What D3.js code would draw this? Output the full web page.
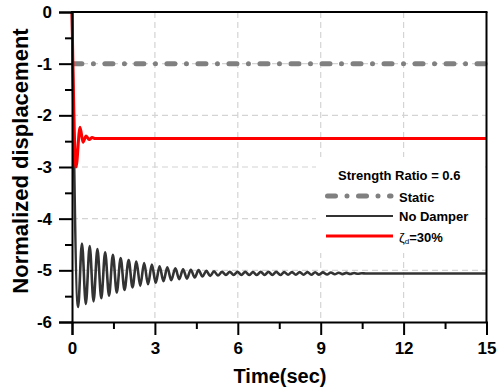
<!DOCTYPE html>
<html><head><meta charset="utf-8">
<script src="https://cdn.jsdelivr.net/npm/d3@7"></script>
<style>
html,body{margin:0;padding:0;background:#fff;}
svg{display:block;font-family:"Liberation Sans",Arial,sans-serif;}
</style></head>
<body><svg id="c" width="503" height="388"></svg>
<script>
// ---- data ----
const xTicks = [0, 3, 6, 9, 12, 15];
const xMinorTicks = [1.5, 4.5, 7.5, 10.5, 13.5];
const yTicks = [0, -1, -2, -3, -4, -5, -6];
const yMinorTicks = [-0.5, -1.5, -2.5, -3.5, -4.5, -5.5];
const seriesNames = ["Static", "No Damper", "ζd=30%"];

const staticT = [0, 15];
const staticV = [-1, -1];

const dampedT = [0, 0.145, 0.29, 0.40, 0.51, 0.62, 0.73, 0.84, 15];
const dampedV = [0, -3.0, -2.23, -2.52, -2.40, -2.47, -2.43, -2.45, -2.45];

const noDamperT = [0, 0.22, 0.36, 0.50, 0.64, 0.78, 0.92, 1.06, 1.20, 1.34, 1.48,
  1.62, 1.76, 1.90, 2.05, 2.19, 2.33, 2.47, 2.61, 2.75, 2.89,
  3.03, 3.17, 3.31, 3.45, 3.59, 3.74, 3.88, 4.02, 4.16, 4.30,
  4.44, 4.58, 4.72, 4.86, 5.00, 5.14, 5.28, 5.43, 5.57, 5.71,
  5.85, 5.99, 6.13, 6.27, 6.41, 6.55, 6.69, 6.83, 6.97, 7.11,
  7.25, 7.39, 7.54, 7.68, 7.82, 7.96, 8.10, 8.24, 8.38, 8.52,
  8.66, 8.80, 8.94, 9.08, 9.23, 9.37, 9.51, 9.65, 9.79, 9.93,
  10.07, 10.21, 10.35, 10.49, 10.63, 15];
const noDamperV = [0,
  -5.71, -4.48, -5.65, -4.53, -5.60, -4.59, -5.54, -4.65, -5.49, -4.70,
  -5.43, -4.76, -5.38, -4.80, -5.33, -4.83, -5.30, -4.86, -5.27, -4.89,
  -5.24, -4.92, -5.21, -4.94, -5.19, -4.96, -5.17, -4.98, -5.16, -4.99,
  -5.14, -4.995, -5.12, -5.01, -5.11, -5.02, -5.10, -5.03, -5.09, -5.03,
  -5.09, -5.03, -5.09, -5.03, -5.09, -5.035, -5.09, -5.03, -5.09, -5.03,
  -5.09, -5.03, -5.09, -5.035, -5.085, -5.035, -5.085, -5.035, -5.085, -5.035,
  -5.085, -5.037, -5.083, -5.04, -5.08, -5.043, -5.077, -5.046, -5.074, -5.05,
  -5.07, -5.053, -5.067, -5.057, -5.062,
  -5.06];

// ---- layout ----
const L = 72, R = 486.5, T = 12, B = 322;
const svg = d3.select("#c");
const x = d3.scaleLinear().domain([0, 15]).range([L, R]);
const y = d3.scaleLinear().domain([-6, 0]).range([B, T]);

// grid
const grid = svg.append("g").attr("stroke", "#d4d4d4").attr("stroke-width", 1.2).attr("stroke-dasharray", "6,4");
grid.selectAll("line.v").data(xTicks.slice(1, -1)).join("line")
  .attr("x1", d => x(d)).attr("x2", d => x(d)).attr("y1", T).attr("y2", B);
grid.selectAll("line.h").data(yTicks.slice(1, -1)).join("line")
  .attr("x1", L).attr("x2", R).attr("y1", d => y(d)).attr("y2", d => y(d));

const line = d3.line().x(d => x(d[0])).y(d => y(d[1])).curve(d3.curveMonotoneX);
const zip = (a, b) => a.map((v, i) => [v, b[i]]);

// static
svg.append("path").datum(zip(staticT, staticV)).attr("d", d3.line().x(d => x(d[0])).y(d => y(d[1])))
  .attr("fill", "none").attr("stroke", "#808080").attr("stroke-width", 5)
  .attr("stroke-linecap", "round").attr("stroke-dasharray", "8,11.5,0.01,11.5").attr("stroke-dashoffset", 29.1);
// no damper
svg.append("path").datum(zip(noDamperT, noDamperV)).attr("d", line)
  .attr("fill", "none").attr("stroke", "#333").attr("stroke-width", 2.6).attr("stroke-linejoin", "round");
// damped
svg.append("path").datum(zip(dampedT, dampedV)).attr("d", line)
  .attr("fill", "none").attr("stroke", "#ff0000").attr("stroke-width", 3).attr("stroke-linejoin", "round");

// frame
const frame = svg.append("g").attr("stroke", "#000").attr("stroke-width", 2);
frame.append("line").attr("x1", L - 1).attr("x2", R + 1).attr("y1", T).attr("y2", T);
frame.append("line").attr("x1", R).attr("x2", R).attr("y1", T).attr("y2", B);

// axes
const axFont = g => g.selectAll("text").attr("font-size", 17).attr("font-weight", "bold").attr("fill", "#000");
const xAxis = svg.append("g").attr("transform", `translate(0,${B})`)
  .call(d3.axisBottom(x).tickValues(xTicks).tickSize(13).tickPadding(7).tickFormat(d3.format("d")));
const xMinor = svg.append("g").attr("transform", `translate(0,${B})`)
  .call(d3.axisBottom(x).tickValues(xMinorTicks).tickSize(7).tickFormat(""));
const yAxis = svg.append("g").attr("transform", `translate(${L},0)`)
  .call(d3.axisLeft(y).tickValues(yTicks).tickSize(13).tickPadding(7).tickFormat(d3.format("d")));
const yMinor = svg.append("g").attr("transform", `translate(${L},0)`)
  .call(d3.axisLeft(y).tickValues(yMinorTicks).tickSize(7).tickFormat(""));
[xAxis, xMinor, yAxis, yMinor].forEach(g => {
  g.select(".domain").attr("stroke", "#000").attr("stroke-width", 2);
  g.selectAll(".tick line").attr("stroke", "#000").attr("stroke-width", 2);
  axFont(g);
});
yAxis.selectAll("text").text(d => d === 0 ? "0" : "-" + Math.abs(d));
xMinor.select(".domain").remove(); yMinor.select(".domain").remove();

// axis titles
svg.append("text").attr("x", 280).attr("y", 383).attr("text-anchor", "middle")
  .attr("font-size", 20).attr("font-weight", "bold").text("Time(sec)");
svg.append("text").attr("transform", `translate(28,161) rotate(-90)`).attr("text-anchor", "middle")
  .attr("font-size", 22).attr("font-weight", "bold").text("Normalized displacement");

// legend
const lg = svg.append("g");
lg.append("rect").attr("x", 316).attr("y", 157).attr("width", 169).attr("height", 96).attr("fill", "#fff");
lg.append("text").attr("x", 338).attr("y", 180).attr("font-size", 13).attr("font-weight", "bold").text("Strength Ratio = 0.6");
lg.append("line").attr("x1", 327.5).attr("x2", 391).attr("y1", 196).attr("y2", 196)
  .attr("stroke", "#808080").attr("stroke-width", 5).attr("stroke-linecap", "round").attr("stroke-dasharray", "8,11.5,0.01,11.5");
lg.append("line").attr("x1", 326).attr("x2", 393).attr("y1", 216).attr("y2", 216).attr("stroke", "#333").attr("stroke-width", 2);
lg.append("line").attr("x1", 326).attr("x2", 393).attr("y1", 236).attr("y2", 236).attr("stroke", "#ff0000").attr("stroke-width", 3);
lg.append("text").attr("x", 399).attr("y", 201.5).attr("font-size", 13).attr("font-weight", "bold").text(seriesNames[0]);
lg.append("text").attr("x", 399).attr("y", 221).attr("font-size", 13).attr("font-weight", "bold").text(seriesNames[1]);
const zt = lg.append("text").attr("x", 399).attr("y", 241.5).attr("font-size", 13).attr("font-weight", "bold");
zt.append("tspan").attr("font-weight", "normal").text("ζ");
zt.append("tspan").attr("font-size", 8).attr("font-weight", "normal").attr("dy", 2).text("d");
zt.append("tspan").attr("dy", -2).text("=30%");
</script></body></html>
